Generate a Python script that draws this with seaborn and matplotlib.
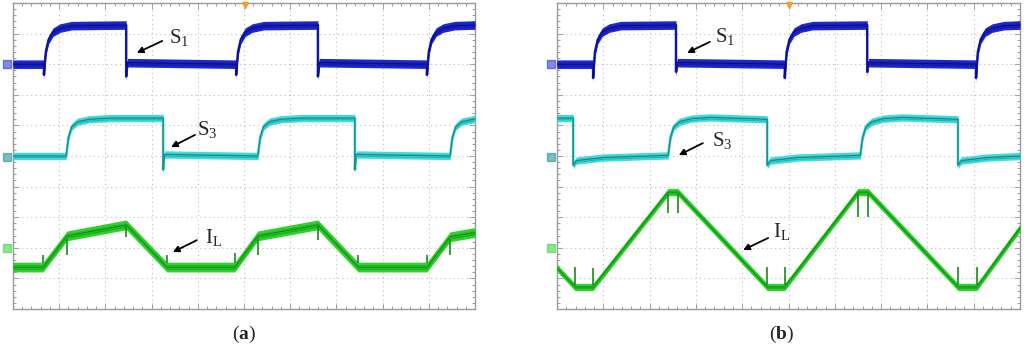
import numpy as np
import pandas as pd
import matplotlib
matplotlib.use("Agg")
import matplotlib.pyplot as plt
import seaborn as sns

sns.set_theme(style="white")
plt.rcParams['font.family'] = ['Liberation Serif', 'DejaVu Serif']
plt.rcParams['mathtext.fontset'] = 'custom'
plt.rcParams['mathtext.rm'] = 'Liberation Serif'
plt.rcParams['mathtext.it'] = 'Liberation Serif:italic'
plt.rcParams['mathtext.bf'] = 'Liberation Serif:bold'

# ---------------- data (time in divisions, level in divisions) ----------------
# Panel (a)
a_s1_t = [0, 0.67, 0.67, 0.71, 0.77, 0.87, 1.02, 1.27, 2.45, 2.45, 2.48, 4.83, 4.83, 4.87, 4.93, 5.03, 5.18,
          5.43, 6.6, 6.6, 6.63, 8.96, 8.96, 9.0, 9.06, 9.16, 9.31, 9.56, 10]
a_s1_v = [8.0, 8.0, 7.65, 8.4, 8.8, 9.05, 9.18, 9.26, 9.28, 7.6, 8.05, 8.0, 7.65, 8.4, 8.8, 9.05, 9.18,
          9.26, 9.28, 7.6, 8.05, 8.0, 7.65, 8.4, 8.8, 9.05, 9.18, 9.26, 9.28]
a_s3_t = [0, 1.15, 1.2, 1.27, 1.4, 1.65, 2.1, 3.25, 3.25, 3.28, 5.3, 5.35, 5.42, 5.55, 5.8, 6.25, 7.4, 7.4,
          7.43, 9.46, 9.51, 9.58, 9.71, 9.96, 10]
a_s3_v = [5.0, 5.0, 5.6, 5.95, 6.12, 6.2, 6.24, 6.24, 4.55, 5.05, 5.0, 5.6, 5.95, 6.12, 6.2, 6.24, 6.24, 4.55,
          5.05, 5.0, 5.6, 5.95, 6.12, 6.2, 6.21]
a_il_t = [0, 0.65, 1.17, 2.45, 3.33, 4.8, 5.3, 6.6, 7.47, 8.96, 9.46, 10]
a_il_v = [1.37, 1.37, 2.39, 2.75, 1.37, 1.37, 2.39, 2.75, 1.37, 1.37, 2.36, 2.5]
a_spk_t = [0.65, 1.17, 2.45, 3.33, 4.8, 5.3, 6.6, 7.47, 8.96, 9.46]
a_spk_from = [1.5, 2.3, 2.7, 1.5, 1.5, 2.3, 2.7, 1.5, 1.5, 2.3]
a_spk_to = [1.78, 1.76, 2.35, 1.76, 1.82, 1.76, 2.25, 1.76, 1.76, 1.76]

# Panel (b)
b_s1_t = [0, 0.78, 0.78, 0.82, 0.88, 0.98, 1.13, 1.38, 2.57, 2.57, 2.6, 4.92, 4.92, 4.96, 5.02, 5.12, 5.27,
          5.52, 6.7, 6.7, 6.73, 9.05, 9.05, 9.09, 9.15, 9.25, 9.4, 9.65, 10]
b_s1_v = [8.0, 8.0, 7.55, 8.4, 8.8, 9.05, 9.18, 9.26, 9.28, 7.75, 8.05, 8.0, 7.55, 8.4, 8.8, 9.05, 9.18,
          9.26, 9.28, 7.75, 8.05, 8.0, 7.55, 8.4, 8.8, 9.05, 9.18, 9.26, 9.28]
b_s3_t = [0, 0.35, 0.35, 0.42, 1.0, 2.4, 2.45, 2.52, 2.65, 2.9, 3.3, 4.54, 4.54, 4.61, 5.2, 6.55, 6.6, 6.67,
          6.8, 7.05, 7.45, 8.66, 8.66, 8.73, 9.3, 10]
b_s3_v = [6.24, 6.24, 4.7, 4.85, 4.95, 5.02, 5.6, 5.95, 6.12, 6.22, 6.26, 6.2, 4.7, 4.85, 4.95, 5.02, 5.6, 5.95,
          6.12, 6.22, 6.26, 6.2, 4.7, 4.85, 4.95, 5.0]
b_il_t = [0, 0.39, 0.78, 2.4, 2.61, 4.54, 4.92, 6.5, 6.72, 8.66, 9.07, 10]
b_il_v = [1.34, 0.72, 0.72, 3.82, 3.82, 0.72, 0.72, 3.82, 3.82, 0.72, 0.72, 2.65]
b_spk_t = [0.39, 0.78, 2.4, 2.61, 4.54, 4.92, 6.5, 6.72, 8.66, 9.07]
b_spk_from = [0.8, 0.8, 3.75, 3.75, 0.8, 0.8, 3.75, 3.75, 0.8, 0.8]
b_spk_to = [1.37, 1.34, 3.14, 3.14, 1.36, 1.36, 3.0, 3.0, 1.37, 1.37]

# label / arrow annotations: (text, text_x, text_y, tail_x, tail_y, head_x, head_y)
a_labels = [("S$_1$", 3.6, 8.86, 3.23, 8.76, 2.68, 8.37),
            ("S$_3$", 4.2, 5.85, 3.94, 5.69, 3.42, 5.29),
            ("I$_{\\mathrm{L}}$", 4.33, 2.35, 3.98, 2.25, 3.46, 1.86)]
b_labels = [("S$_1$", 3.64, 8.89, 3.30, 8.73, 2.81, 8.37),
            ("S$_3$", 3.56, 5.52, 3.15, 5.42, 2.63, 5.03),
            ("I$_{\\mathrm{L}}$", 4.85, 2.52, 4.56, 2.32, 4.02, 1.93)]
channel_refs = [8.02, 4.97, 2.0]
captions = ["a", "b"]
caption_x = [0.5, 0.485]

# colours: (band, core)
C_S1 = ("#1e28d0", "#0a0f86")
C_S3 = ("#40dcdc", "#178a8a")
C_IL = ("#2ed22e", "#149014")

W, H = 1024, 355
fig = plt.figure(figsize=(W / 100, H / 100), dpi=100)
ax_a = fig.add_axes([13 / W, 46 / H, 462 / W, 306 / H])
ax_b = fig.add_axes([557 / W, 46 / H, 463 / W, 306 / H])


def trace(ax, t, v, cols, h):
    t = np.asarray(t, float)
    v = np.asarray(v, float)
    ax.fill_between(t, v - h, v + h, color=cols[0], lw=0, zorder=3)
    ax.fill_between(t, v - h * 0.45, v + h * 0.45, color=cols[1], lw=0, zorder=3.2, alpha=0.6)
    df = pd.DataFrame({"t": t, "v": v})
    sns.lineplot(data=df, x="t", y="v", ax=ax, color=cols[0], lw=1.8, sort=False,
                 estimator=None, zorder=3.5)
    sns.lineplot(data=df, x="t", y="v", ax=ax, color=cols[1], lw=1.0, sort=False,
                 estimator=None, zorder=4)


def scope(ax, s1, s3, il, spk, labels, cap, cap_x, il_h):
    ax.set_xlim(0, 10)
    ax.set_ylim(0, 10)
    for k in range(1, 10):
        ax.axvline(k, color="#bdbdbd", lw=0.8, ls=(0, (1, 3)), zorder=1)
        ax.axhline(k, color="#bdbdbd", lw=0.8, ls=(0, (1, 3)), zorder=1)
    ax.set_xticks(np.arange(0, 10.01, 1))
    ax.set_yticks(np.arange(0, 10.01, 1))
    ax.set_xticks(np.arange(0, 10.01, 0.2), minor=True)
    ax.set_yticks(np.arange(0, 10.01, 0.2), minor=True)
    ax.tick_params(which="both", direction="in", top=True, right=True, bottom=True, left=True,
                   labelbottom=False, labelleft=False, color="#9a9a9a", width=0.7)
    ax.tick_params(which="major", length=4)
    ax.tick_params(which="minor", length=2.5)
    for sp in ax.spines.values():
        sp.set_color("#9a9a9a")
        sp.set_linewidth(1.0)
    ax.set_xlabel("")
    ax.set_ylabel("")

    trace(ax, s1[0], s1[1], C_S1, 0.14)
    trace(ax, s3[0], s3[1], C_S3, 0.12)
    trace(ax, il[0], il[1], C_IL, il_h)
    ax.vlines(spk[0], spk[1], spk[2], color=C_IL[1], lw=1.2, zorder=5)

    for col, yv in zip([C_S1[0], C_S3[1], C_IL[0]], channel_refs):
        ax.plot([-0.13], [yv], marker="s", ms=6, color=col, alpha=0.55, clip_on=False, zorder=6)
    ax.plot([5.02], [9.93], marker="v", ms=5, color="#f0a030", clip_on=False, zorder=6)

    for txt, tx, ty, x0, y0, x1, y1 in labels:
        ax.annotate("", xy=(x1, y1), xytext=(x0, y0),
                    arrowprops=dict(arrowstyle="-|>", color="black", lw=1.3,
                                    mutation_scale=9, shrinkA=0, shrinkB=0), zorder=7)
        ax.text(tx, ty, txt, fontsize=15, ha="center", va="center", zorder=7)

    ax.text(cap_x, -0.05, "($\\mathbf{%s}$)" % cap, transform=ax.transAxes, ha="center",
            va="top", fontsize=14)


scope(ax_a, (a_s1_t, a_s1_v), (a_s3_t, a_s3_v), (a_il_t, a_il_v),
      (a_spk_t, a_spk_from, a_spk_to), a_labels, captions[0], caption_x[0], 0.16)
scope(ax_b, (b_s1_t, b_s1_v), (b_s3_t, b_s3_v), (b_il_t, b_il_v),
      (b_spk_t, b_spk_from, b_spk_to), b_labels, captions[1], caption_x[1], 0.12)

fig.savefig("out.png", dpi=100)
